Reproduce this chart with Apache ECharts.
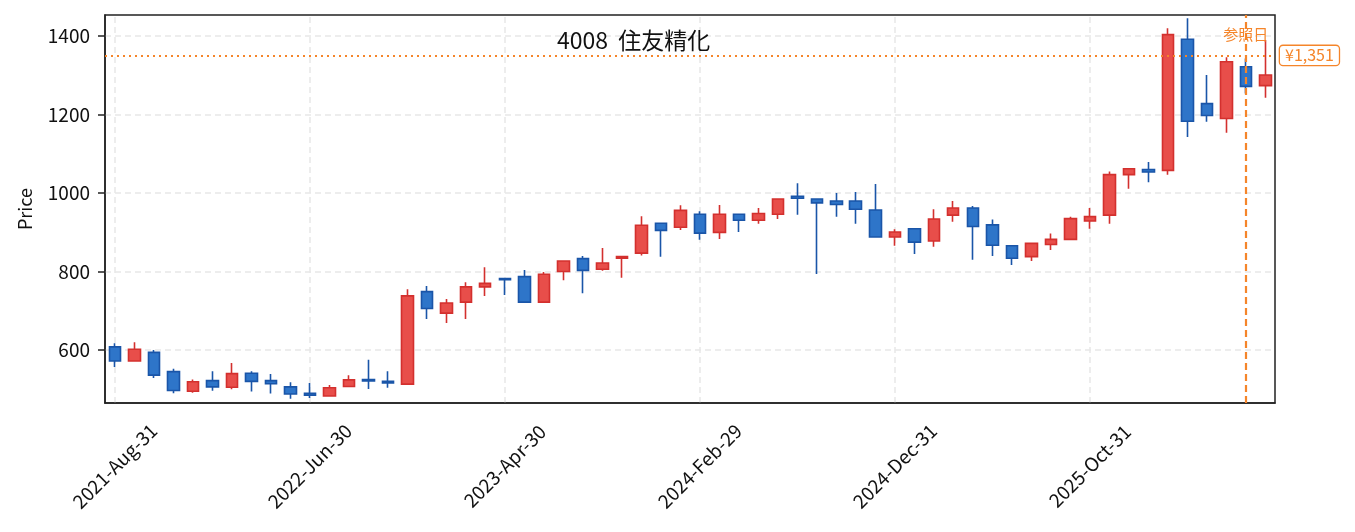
<!DOCTYPE html>
<html>
<head>
<meta charset="utf-8">
<script src="https://cdn.jsdelivr.net/npm/echarts@6/dist/echarts.min.js"></script>
<style>
  html, body { margin: 0; padding: 0; background: #fff; }
  #chart { width: 1355px; height: 532px; }
</style>
</head>
<body>
<div id="chart"></div>
<script>
const dates = [
  "2021-Aug-31", "2021-Sep-30", "2021-Oct-31", "2021-Nov-30", "2021-Dec-31",
  "2022-Jan-31", "2022-Feb-28", "2022-Mar-31", "2022-Apr-30", "2022-May-31", "2022-Jun-30",
  "2022-Jul-31", "2022-Aug-31", "2022-Sep-30", "2022-Oct-31", "2022-Nov-30", "2022-Dec-31",
  "2023-Jan-31", "2023-Feb-28", "2023-Mar-31", "2023-Apr-30", "2023-May-31", "2023-Jun-30",
  "2023-Jul-31", "2023-Aug-31", "2023-Sep-30", "2023-Oct-31", "2023-Nov-30", "2023-Dec-31",
  "2024-Jan-31", "2024-Feb-29", "2024-Mar-31", "2024-Apr-30", "2024-May-31", "2024-Jun-30",
  "2024-Jul-31", "2024-Aug-31", "2024-Sep-30", "2024-Oct-31", "2024-Nov-30", "2024-Dec-31",
  "2025-Jan-31", "2025-Feb-28", "2025-Mar-31", "2025-Apr-30", "2025-May-31", "2025-Jun-30",
  "2025-Jul-31", "2025-Aug-31", "2025-Sep-30", "2025-Oct-31", "2025-Nov-30", "2025-Dec-31",
  "2026-Jan-31", "2026-Feb-28", "2026-Mar-31", "2026-Apr-30", "2026-May-31", "2026-Jun-30",
  "2026-Jul-31",
];

const opens = [
  608, 572, 594, 545, 495, 522, 505, 541, 522, 506, 490, 483, 507, 525, 520,
  513, 749, 694, 722, 761, 782, 787, 722, 800, 833, 806, 834, 847, 923, 913,
  946, 900, 946, 931, 946, 992, 985, 980, 980, 957, 888, 909, 878, 944, 962,
  919, 866, 838, 869, 882, 929, 944, 1047, 1060, 1058, 1392, 1228, 1190, 1322, 1274,
];
const closes = [
  572, 602, 536, 497, 519, 506, 540, 520, 514, 488, 485, 504, 524, 521, 516,
  738, 706, 720, 761, 770, 779, 722, 793, 827, 803, 822, 838, 918, 905, 956,
  898, 946, 931, 948, 985, 987, 975, 971, 959, 888, 901, 875, 934, 962, 915,
  867, 834, 872, 882, 935, 940, 1047, 1062, 1054, 1404, 1183, 1198, 1335, 1272, 1301,
];
const lows = [
  557, 571, 529, 490, 491, 496, 500, 494, 489, 476, 478, 482, 505, 501, 504,
  512, 679, 669, 679, 738, 740, 721, 721, 778, 745, 802, 784, 841, 838, 906,
  881, 883, 901, 922, 934, 945, 794, 940, 922, 888, 866, 845, 863, 927, 830,
  840, 817, 827, 855, 881, 909, 922, 1011, 1028, 1047, 1143, 1182, 1154, 1254, 1243,
];
const highs = [
  617, 620, 600, 552, 525, 546, 567, 546, 539, 518, 516, 511, 536, 575, 546,
  755, 763, 730, 773, 811, 783, 804, 799, 829, 840, 860, 838, 941, 923, 969,
  954, 970, 947, 962, 987, 1025, 987, 1000, 1003, 1023, 908, 910, 959, 980, 967,
  933, 867, 874, 897, 940, 962, 1055, 1063, 1079, 1420, 1446, 1301, 1346, 1343, 1390,
];

const yTicks = [600, 800, 1000, 1200, 1400];
const xTickDates = ["2021-Aug-31", "2022-Jun-30", "2023-Apr-30", "2024-Feb-29", "2024-Dec-31", "2025-Oct-31"];
const refPrice = 1351;
const refDate = "2026-Jun-30";
const title = "4008  住友精化";

const font = "'Noto Sans CJK JP', 'Noto Sans', sans-serif";
const orange = "#F5852A";
const gridColor = "#e8e8e8";

const candles = dates.map((d, i) => [opens[i], closes[i], lows[i], highs[i]]);

const chart = echarts.init(document.getElementById("chart"), null, { renderer: "canvas" });

chart.setOption({
  animation: false,
  backgroundColor: "#fff",
  textStyle: { fontFamily: font },
  title: {
    text: title,
    left: 552,
    top: 24,
    textStyle: { fontFamily: font, fontSize: 23, fontWeight: "normal", color: "#111" },
  },
  grid: {
    left: 105, right: 80, top: 15, bottom: 129,
    show: true, borderColor: "#222", borderWidth: 1.5, backgroundColor: "transparent",
  },
  xAxis: {
    type: "category",
    data: dates,
    boundaryGap: true,
    axisLine: { lineStyle: { color: "#222", width: 1.5 } },
    axisTick: { alignWithLabel: true, interval: 9, length: 6, lineStyle: { color: "#222", width: 1.5 } },
    axisLabel: {
      interval: 9, rotate: 45, fontSize: 19, color: "#111", fontFamily: font,
      align: "center", verticalAlign: "middle", margin: 63,
    },
    splitLine: { show: false },
  },
  yAxis: {
    type: "value",
    min: 465,
    max: 1454,
    name: "Price",
    nameLocation: "middle",
    nameGap: 71,
    nameTextStyle: { fontSize: 18, color: "#111", fontFamily: font },
    axisLine: { show: true, lineStyle: { color: "#222", width: 1.5 } },
    axisTick: { show: true, customValues: yTicks, length: 7, lineStyle: { color: "#222", width: 1.5 } },
    axisLabel: {
      customValues: yTicks, fontSize: 19, color: "#111", fontFamily: font, margin: 15,
      formatter: (v) => String(v),
    },
    splitLine: { show: false },
  },
  series: [
    {
      name: "grid",
      type: "line",
      z: 0,
      data: dates.map(() => null),
      silent: true,
      symbol: "none",
      markLine: {
        silent: true,
        symbol: "none",
        z: 0,
        label: { show: false },
        lineStyle: { color: gridColor, type: [6, 4], width: 1.5 },
        data: [
          ...yTicks.map((v) => ({ yAxis: v })),
          ...xTickDates.map((d) => ({ xAxis: d })),
        ],
      },
    },
    {
      name: "price",
      type: "candlestick",
      z: 3,
      data: candles,
      barWidth: 12,
      itemStyle: {
        color: "#E84E4A",
        color0: "#2E75C9",
        borderColor: "#D3302E",
        borderColor0: "#1A55A8",
        borderWidth: 1.6,
      },
      markLine: {
        silent: true,
        symbol: "none",
        z: 5,
        data: [
          {
            yAxis: refPrice,
            lineStyle: { color: orange, type: [2, 4], width: 2 },
            label: {
              show: true,
              position: "end",
              formatter: "¥1,351",
              color: orange,
              fontSize: 16,
              fontFamily: font,
              backgroundColor: "#fff",
              borderColor: orange,
              borderWidth: 1.3,
              borderRadius: 3,
              padding: [2, 5, 1, 5],
              distance: 5,
            },
          },
          {
            xAxis: refDate,
            lineStyle: { color: orange, type: [7, 4], width: 2.2 },
            label: {
              show: true,
              position: "end",
              formatter: "参照日",
              color: orange,
              fontSize: 15,
              fontFamily: font,
              distance: -27,
            },
          },
        ],
      },
    },
  ],
});
</script>
</body>
</html>
